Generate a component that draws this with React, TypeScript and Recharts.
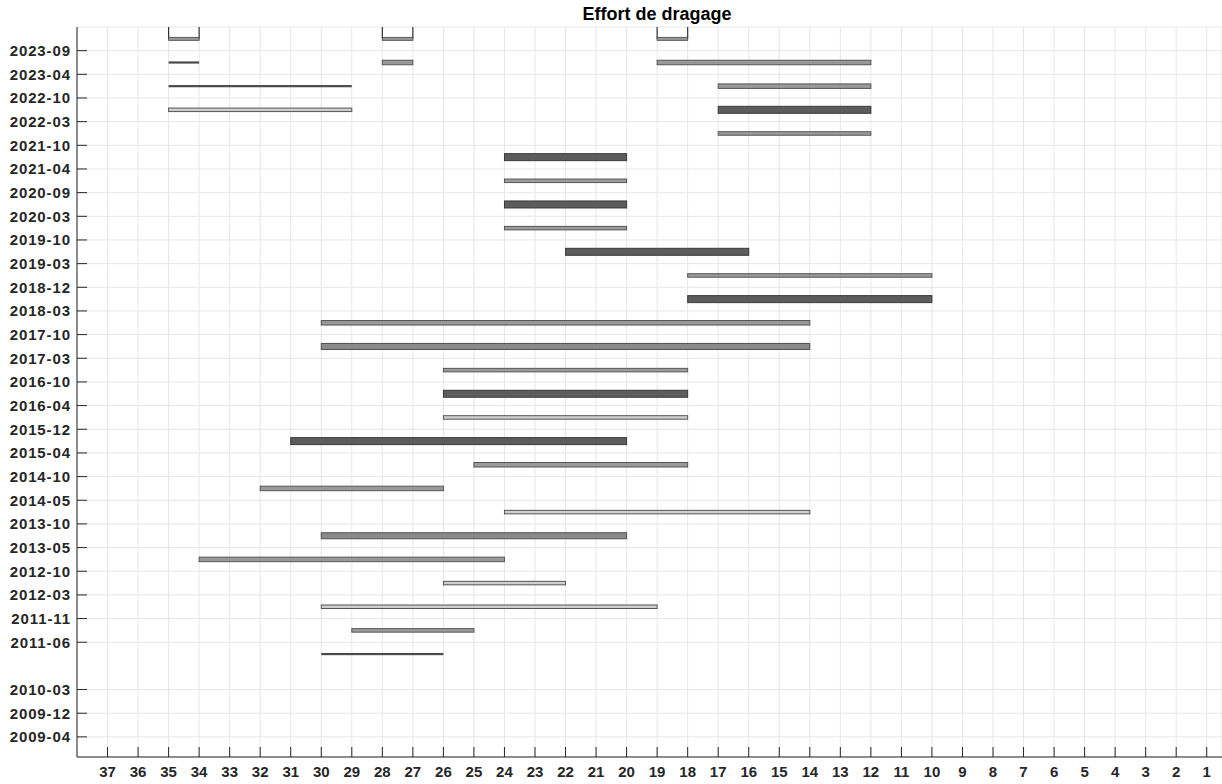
import { ComposedChart, XAxis, YAxis, CartesianGrid, ReferenceArea } from "recharts";

// y positions: index = row of the period label (bottom to top), null = no tick
const periodLabels: (string | null)[] = [
  "2009-04", "2009-12", "2010-03", null, "2011-06", "2011-11", "2012-03", "2012-10",
  "2013-05", "2013-10", "2014-05", "2014-10", "2015-04", "2015-12", "2016-04", "2016-10",
  "2017-03", "2017-10", "2018-03", "2018-12", "2019-03", "2019-10", "2020-03", "2020-09",
  "2021-04", "2021-10", "2022-03", "2022-10", "2023-04", "2023-09",
];

const zones = Array.from({ length: 37 }, (_, i) => i + 1);

// dredging campaigns: row, first zone, last zone, effort class
const barRow = [
  28.5, 28.5, 28.5, 27.5, 27.5, 26.5, 26.5, 25.5, 24.5, 23.5, 22.5, 21.5, 20.5, 19.5, 18.5,
  17.5, 16.5, 15.5, 14.5, 13.5, 12.5, 11.5, 10.5, 9.5, 8.5, 7.5, 6.5, 5.5, 4.5, 3.5,
];
const barFrom = [
  35, 28, 19, 35, 17, 35, 17, 17, 24, 24, 24, 24, 22, 18, 18,
  30, 30, 26, 26, 26, 31, 25, 32, 24, 30, 34, 26, 30, 29, 30,
];
const barTo = [
  34, 27, 12, 29, 12, 29, 12, 12, 20, 20, 20, 20, 16, 10, 10,
  14, 14, 18, 18, 18, 20, 18, 26, 14, 20, 24, 22, 19, 25, 26,
];
const barEffort = [
  1, 4, 4, 1, 4, 2, 6, 3, 6, 3, 6, 3, 6, 3, 6,
  4, 5, 3, 6, 2, 6, 4, 4, 2, 5, 4, 2, 2, 3, 1,
];

// campaigns still open at the latest period
const openRow = 29.5;
const openFrom = [35, 28, 19];
const openTo = [34, 27, 18];

const effortStyle: Record<number, { h: number; fill: string; stroke: string }> = {
  1: { h: 2.2, fill: "#4a4a4a", stroke: "#444" },
  2: { h: 3.5, fill: "#cfcfcf", stroke: "#555" },
  3: { h: 3.5, fill: "#9c9c9c", stroke: "#555" },
  4: { h: 4.5, fill: "#999", stroke: "#555" },
  5: { h: 6, fill: "#8a8a8a", stroke: "#505050" },
  6: { h: 7, fill: "#5c5c5c", stroke: "#3a3a3a" },
};

const bars = barRow.map((row, i) => ({
  row,
  from: barFrom[i],
  to: barTo[i],
  effort: barEffort[i],
}));

const yTicks = periodLabels.map((l, i) => (l ? i : -1)).filter((i) => i >= 0);

const axisColor = "#262626";
const font = '"Liberation Sans", Arial, Helvetica, sans-serif';

function barShape(effort: number) {
  const s = effortStyle[effort];
  return (p: any) => {
    const cy = p.y + p.height / 2;
    return (
      <rect
        x={p.x}
        y={cy - s.h / 2}
        width={p.width}
        height={s.h}
        fill={s.fill}
        stroke={s.stroke}
        strokeWidth={effort === 1 ? 0 : 1}
      />
    );
  };
}

function openShape(p: any) {
  const bottom = p.y + p.height;
  return (
    <g>
      <line x1={p.x} y1={p.y} x2={p.x} y2={bottom} stroke="#333" strokeWidth={1.2} />
      <line x1={p.x + p.width} y1={p.y} x2={p.x + p.width} y2={bottom} stroke="#333" strokeWidth={1.2} />
      <rect x={p.x} y={bottom - 1.5} width={p.width} height={3} fill="#999" stroke="#444" strokeWidth={0.8} />
    </g>
  );
}

export default function App() {
  return (
    <div
      style={{
        position: "absolute",
        left: 0,
        top: 0,
        width: 1222,
        height: 784,
        overflow: "hidden",
        background: "#fff",
        fontFamily: font,
      }}
    >
      <ComposedChart width={1222} height={784} margin={{ top: 27, right: 0, bottom: 0, left: 0 }}>
        <CartesianGrid stroke="#e6e6e6" />
        <XAxis
          type="number"
          dataKey="from"
          domain={[0.5, 38]}
          allowDataOverflow
          reversed
          ticks={zones}
          interval={0}
          height={27}
          tickSize={-10}
          tickMargin={19}
          stroke={axisColor}
          tick={{ fill: axisColor, fontSize: 15, fontWeight: "bold", fontFamily: font }}
        />
        <XAxis
          xAxisId="top"
          orientation="top"
          type="number"
          domain={[0.5, 38]}
          allowDataOverflow
          reversed
          ticks={zones}
          interval={0}
          height={0}
          tickSize={-10}
          tick={false}
          stroke={axisColor}
        />
        <YAxis
          type="number"
          domain={[-0.85, 30]}
          allowDataOverflow
          ticks={yTicks}
          interval={0}
          width={77}
          tickSize={-10}
          tickMargin={16}
          stroke={axisColor}
          tickFormatter={(v: number) => periodLabels[v] ?? ""}
          tick={{ fill: axisColor, fontSize: 15, fontWeight: "bold", fontFamily: font, letterSpacing: 0.9 }}
        />
        {bars.map((b, i) => (
          <ReferenceArea
            key={"b" + i}
            x1={b.from}
            x2={b.to}
            y1={b.row - 0.2}
            y2={b.row + 0.2}
            shape={barShape(b.effort)}
          />
        ))}
        {openFrom.map((f, i) => (
          <ReferenceArea
            key={"o" + i}
            x1={f}
            x2={openTo[i]}
            y1={openRow}
            y2={30}
            shape={openShape}
          />
        ))}
      </ComposedChart>
      <div
        style={{
          position: "absolute",
          left: 0,
          top: 4,
          width: 1314,
          textAlign: "center",
          fontSize: 18,
          fontWeight: "bold",
          color: "#000",
          fontFamily: font,
        }}
      >
        Effort de dragage
      </div>
    </div>
  );
}
